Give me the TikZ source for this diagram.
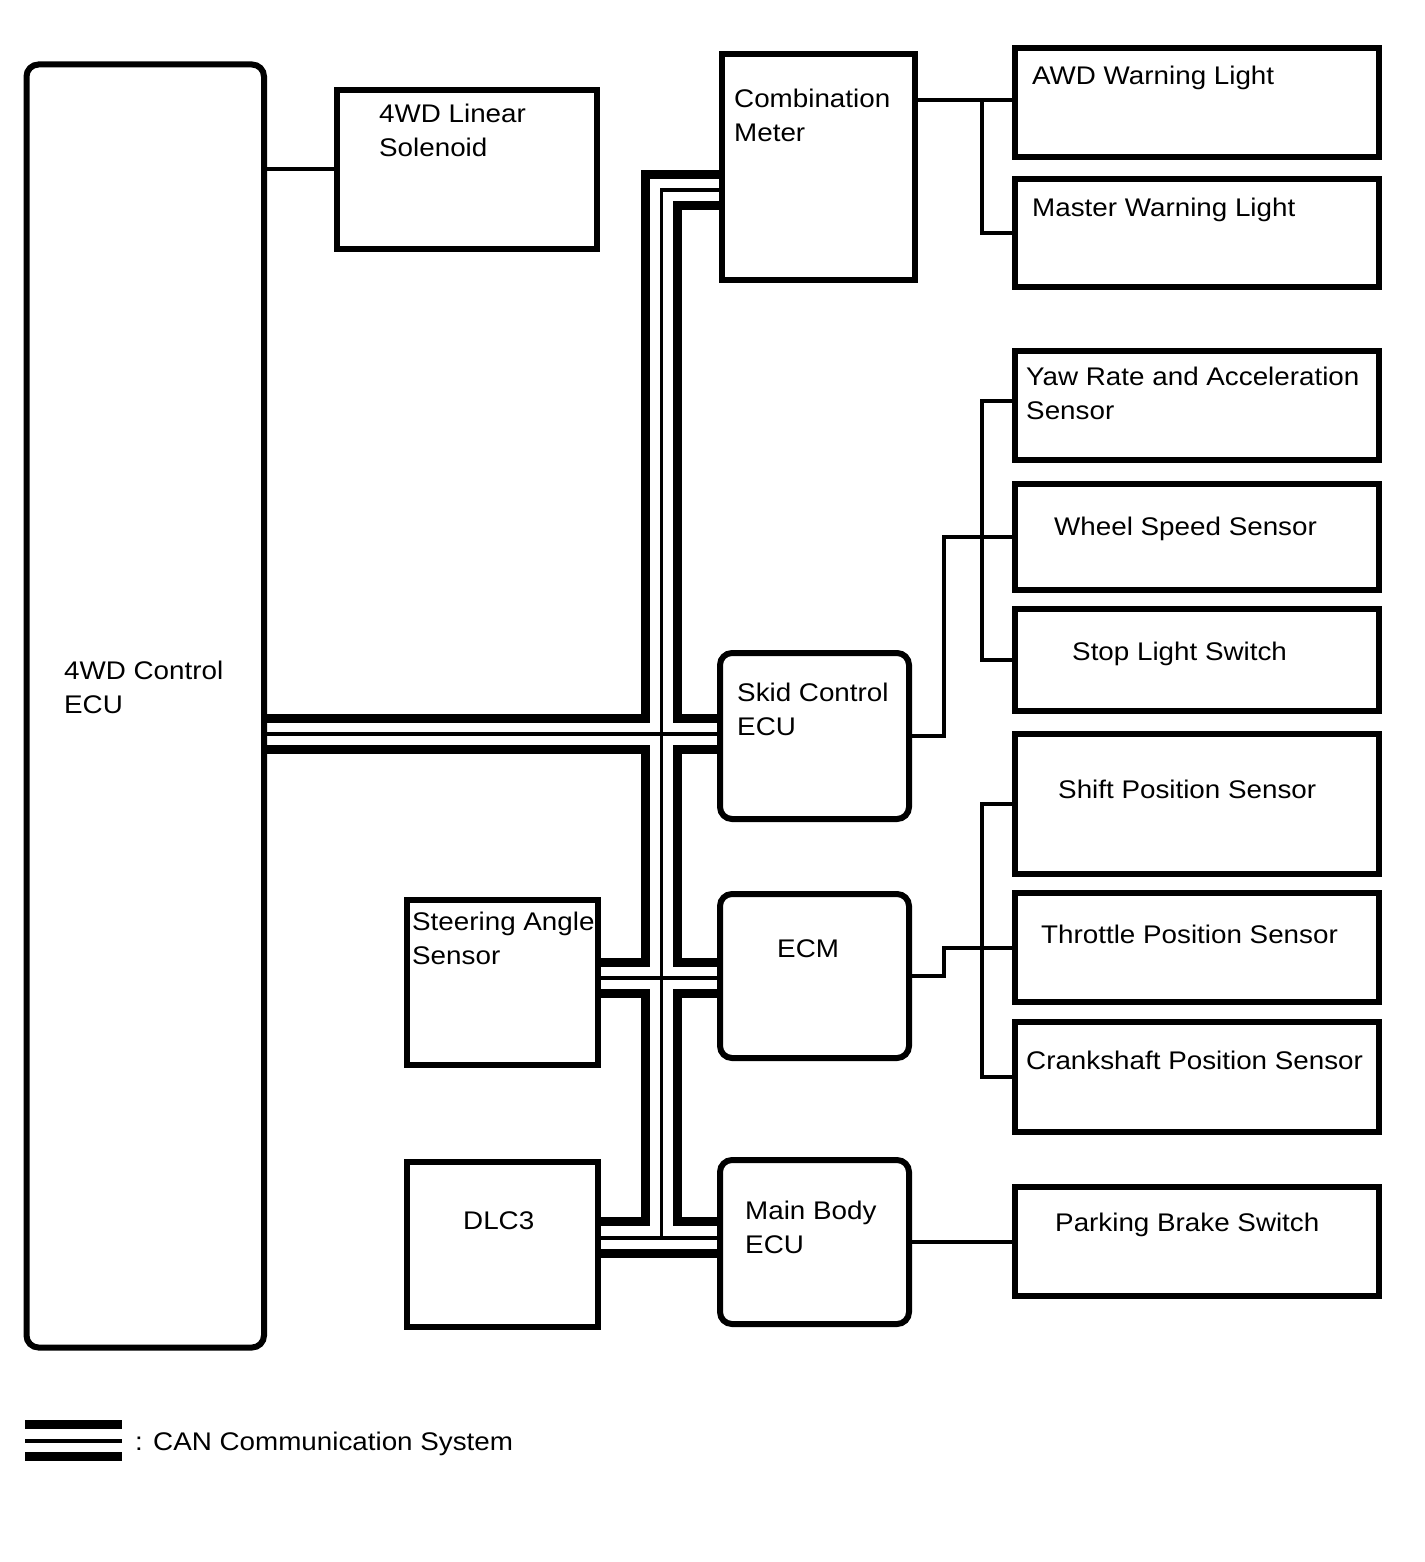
\documentclass[tikz,border=0pt]{standalone}
\usepackage{fontspec}
\setmainfont{Liberation Sans}[FakeStretch=1.09]
\usepackage{tikz}

\begin{document}
\begin{tikzpicture}[x=1pt, y=-1pt,
    box/.style={draw, line width=6pt, outer sep=0pt, inner sep=0pt},
    ecubox/.style={box, rounded corners=12pt},
    lbl/.style={anchor=north west, inner sep=0pt, align=left, font=\fontsize{25.5}{34}\selectfont},
    wire/.style={line width=4pt},
    canbus/.style={line width=9pt, line join=miter},
    canline/.style={line width=3.5pt}]
    \useasboundingbox (0,0) rectangle (1424,1562);
    \node [ecubox, minimum width=237.5pt, minimum height=1283pt] (ecu) at (145.25,706) {};
    \node [box, minimum width=260.5pt, minimum height=159pt] (sol) at (466.75,169.5) {};
    \node [box, minimum width=193pt, minimum height=225pt] (meter) at (818,167) {};
    \node [box, minimum width=364pt, minimum height=109pt] (awd) at (1197,102.5) {};
    \node [box, minimum width=364pt, minimum height=108pt] (master) at (1197,233) {};
    \node [box, minimum width=364pt, minimum height=109pt] (yaw) at (1197,405.5) {};
    \node [box, minimum width=364pt, minimum height=106pt] (wheel) at (1197,537) {};
    \node [box, minimum width=364pt, minimum height=102pt] (stop) at (1197,660) {};
    \node [ecubox, minimum width=189pt, minimum height=166pt] (skid) at (814.5,736) {};
    \node [box, minimum width=364pt, minimum height=140pt] (shift) at (1197,804) {};
    \node [box, minimum width=364pt, minimum height=109pt] (throttle) at (1197,947.5) {};
    \node [box, minimum width=364pt, minimum height=110pt] (crank) at (1197,1077) {};
    \node [box, minimum width=191pt, minimum height=165pt] (sas) at (502.5,982.5) {};
    \node [ecubox, minimum width=189pt, minimum height=164pt] (ecm) at (814.5,976) {};
    \node [box, minimum width=191pt, minimum height=165pt] (dlc) at (502.5,1244.5) {};
    \node [ecubox, minimum width=189pt, minimum height=164pt] (mainbody) at (814.5,1242) {};
    \node [box, minimum width=364pt, minimum height=109pt] (parking) at (1197,1241.5) {};

    \node [lbl] (ecu-t) at (64,660.5) {4WD Control\\ECU};
    \node [lbl] (sol-t) at (379,103.5) {4WD Linear\\Solenoid};
    \node [lbl] (meter-t) at (734,88.5) {Combination\\Meter};
    \node [lbl] (awd-t) at (1032,65.5) {AWD Warning Light};
    \node [lbl] (master-t) at (1032,197.5) {Master Warning Light};
    \node [lbl] (yaw-t) at (1026,366.5) {Yaw Rate and Acceleration\\Sensor};
    \node [lbl] (wheel-t) at (1054,516.5) {Wheel Speed Sensor};
    \node [lbl] (stop-t) at (1072,641.5) {Stop Light Switch};
    \node [lbl] (skid-t) at (737,682.5) {Skid Control\\ECU};
    \node [lbl] (shift-t) at (1058,779.5) {Shift Position Sensor};
    \node [lbl] (throttle-t) at (1041,924.5) {Throttle Position Sensor};
    \node [lbl] (crank-t) at (1026,1050.5) {Crankshaft Position Sensor};
    \node [lbl] (sas-t) at (412,911.5) {Steering Angle\\Sensor};
    \node [lbl] (ecm-t) at (777,939.5) {ECM};
    \node [lbl] (dlc-t) at (463,1211.5) {DLC3};
    \node [lbl] (mainbody-t) at (745,1200.5) {Main Body\\ECU};
    \node [lbl] (parking-t) at (1055,1212.5) {Parking Brake Switch};

    \draw [wire] (ecu.east |- sol.west) -- (sol.west);
    \draw [wire] (meter.east |- 0,100.5) -- (awd.west |- 0,100.5);
    \draw [wire] (awd.west |- 0,100.5) -| (master.west -| 982,0) -- (master.west);
    \draw [wire] (skid.east) -| (wheel.west -| 944,0) -- (wheel.west);
    \draw [wire] (yaw.west |- 0,400.5) -| (stop.west -| 982,0) -- (stop.west);
    \draw [wire] (ecm.east) -| (throttle.west -| 944,0) -- (throttle.west);
    \draw [wire] (shift.west) -| (crank.west -| 982,0) -- (crank.west);
    \draw [wire] (mainbody.east) -- (mainbody.east -| parking.west);

    \draw [canbus] (meter.west |- 0,174.5) -| (645.5,718.5) -- (ecu.east |- 0,718.5);
    \draw [canbus] (ecu.east |- 0,749.5) -| (645.5,962.5) -- (sas.east |- 0,962.5);
    \draw [canbus] (sas.east |- 0,993.5) -| (645.5,1221.5) -- (dlc.east |- 0,1221.5);
    \draw [canbus] (meter.west |- 0,205.5) -| (677.5,718.5) -- (skid.west |- 0,718.5);
    \draw [canbus] (skid.west |- 0,749.5) -| (677.5,962.5) -- (ecm.west |- 0,962.5);
    \draw [canbus] (ecm.west |- 0,993.5) -| (677.5,1221.5) -- (mainbody.west |- 0,1221.5);
    \draw [canbus] (dlc.east |- 0,1253.5) -- (mainbody.west |- 0,1253.5);
    \draw [canline] (meter.west |- 0,190) -| (661.5,1238);
    \draw [canline] (ecu.east |- 0,734) -- (skid.west |- 0,734);
    \draw [canline] (sas.east |- 0,978) -- (ecm.west |- 0,978);
    \draw [canline] (dlc.east |- 0,1238) -- (mainbody.west |- 0,1238);

    \draw [canbus] (25,1424) -- (122,1424);
    \draw [canline] (25,1441) -- (122,1441);
    \draw [canbus] (25,1456) -- (122,1456);
    \node [lbl] (legend) at (135,1431.5) {: CAN Communication System};
\end{tikzpicture}
\end{document}
